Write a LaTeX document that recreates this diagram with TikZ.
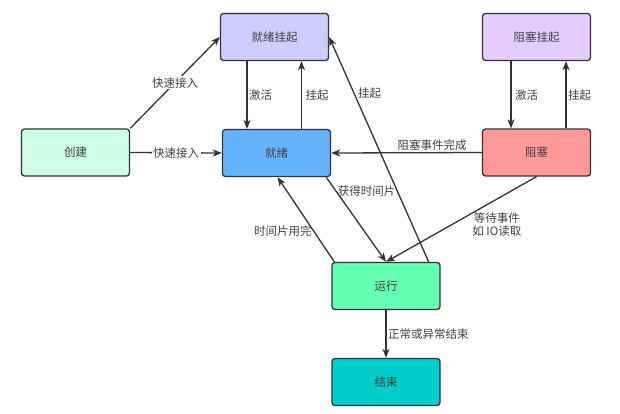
\documentclass[tikz,border=0pt]{standalone}
\usepackage{fontspec}
\setmainfont{Noto Sans CJK SC}
\usetikzlibrary{arrows.meta}
\definecolor{cjxgq}{HTML}{CCCCFF}
\definecolor{czsgq}{HTML}{E5CCFF}
\definecolor{ccj}{HTML}{CCFFE6}
\definecolor{cjx}{HTML}{66B2FF}
\definecolor{czs}{HTML}{FF9999}
\definecolor{cyx}{HTML}{66FFB3}
\definecolor{cjs}{HTML}{00CCCC}
\definecolor{cline}{HTML}{333333}
\definecolor{ctext}{HTML}{404040}
\begin{document}
\begin{tikzpicture}[x=1pt,y=-1pt,
  state/.style={draw=cline, line width=1.3pt, rounded corners=3pt, minimum width=108pt, minimum height=47pt, inner sep=0pt, font=\fontsize{11.5}{13}\selectfont, text=ctext},
  arr/.style={draw=cline, line width=1.3pt, -{Stealth[length=9pt,width=7pt,inset=2.5pt]}},
  lbl/.style={font=\fontsize{11.5}{13}\selectfont, text=ctext, inner sep=1.5pt}]
\useasboundingbox (0,0) rectangle (620,413);
\node[state, fill=cjxgq] (jxgq) at (274.5,37) {就绪挂起};
\node[state, fill=czsgq] (zsgq) at (536.5,37) {阻塞挂起};
\node[state, fill=ccj] (cj) at (75.5,152.5) {创建};
\node[state, fill=cjx] (jx) at (276.5,153) {就绪};
\node[state, fill=czs] (zs) at (536.5,152.5) {阻塞};
\node[state, fill=cyx] (yx) at (386,286) {运行};
\node[state, fill=cjs] (js) at (386,382) {结束};

\draw[arr] (cj.north east) -- node[lbl, fill=white] {快速接入} (jxgq.west);
\draw[arr] (cj.east) -- node[lbl, fill=white] {快速接入} (jx.west);

\draw[arr] ([xshift=-27.5pt]jxgq.south) -- node[lbl, right] {激活} ([xshift=-27.5pt]jxgq.south |- jx.north);
\draw[arr] ([xshift=27pt]jxgq.south |- jx.north) -- node[lbl, right, xshift=2pt] {挂起} ([xshift=27pt]jxgq.south);

\draw[arr] ([xshift=-25.5pt]zsgq.south) -- node[lbl, right, xshift=2pt] {激活} ([xshift=-25.5pt]zsgq.south |- zs.north);
\draw[arr] ([xshift=29.5pt]zsgq.south |- zs.north) -- node[lbl, right] {挂起} ([xshift=29.5pt]zsgq.south);

\draw[arr] (zs.west) -- node[lbl, above, pos=0.33] {阻塞事件完成} (jx.east);

\draw[arr] ([xshift=-12pt]yx.north east) -- node[lbl, right, pos=0.75, xshift=2pt] {挂起} (jxgq.east);

\draw[arr] ([xshift=-5pt]jx.south east) -- node[lbl, right, pos=0.16] {获得时间片} (yx.north);
\draw[arr] ([xshift=3pt]yx.north west) -- node[lbl, left, pos=0.36] {时间片用完} ([xshift=1pt]jx.south);
\draw[arr] (zs.south) -- node[lbl, right, pos=0.56, xshift=18pt, align=center] {等待事件\\如 IO读取} (yx.north);

\draw[arr] (yx.south) -- node[lbl, right] {正常或异常结束} (js.north);
\end{tikzpicture}
\end{document}
